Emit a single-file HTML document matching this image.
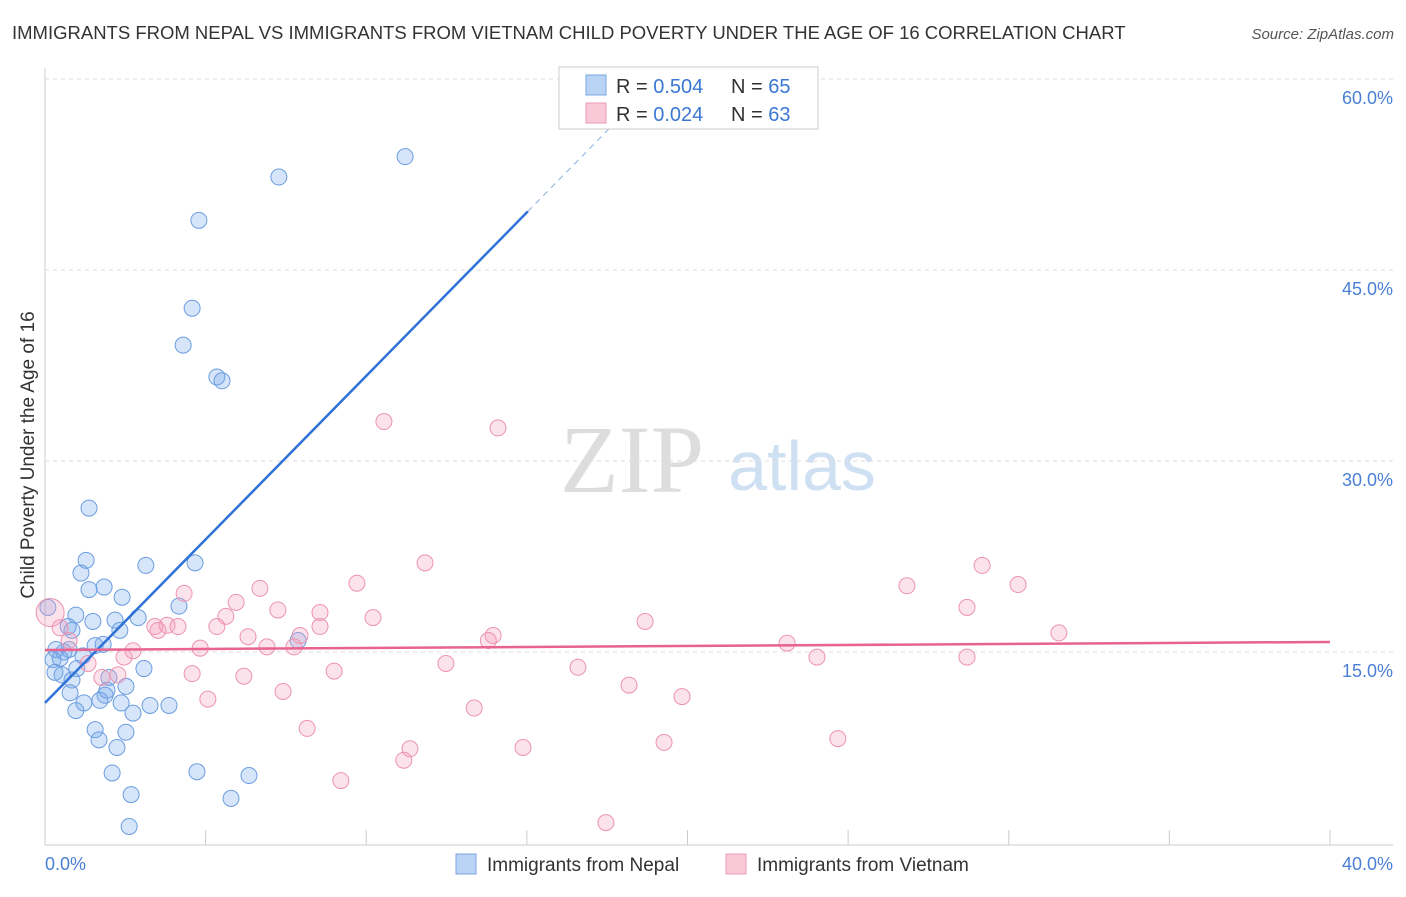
<!DOCTYPE html>
<html><head><meta charset="utf-8"><style>
body{margin:0;background:#fff;font-family:"Liberation Sans",sans-serif;}
</style></head><body>
<svg width="1406" height="892" xmlns="http://www.w3.org/2000/svg">
<text x="12" y="39" font-size="18.5" fill="#333">IMMIGRANTS FROM NEPAL VS IMMIGRANTS FROM VIETNAM CHILD POVERTY UNDER THE AGE OF 16 CORRELATION CHART</text>
<text x="1394" y="39" font-size="15" fill="#555" font-style="italic" text-anchor="end">Source: ZipAtlas.com</text>
<text x="632" y="492" font-size="96" fill="#ddd" font-family="Liberation Serif,serif" text-anchor="middle">ZIP</text>
<text x="802" y="490" font-size="70" fill="#cfe0f3" text-anchor="middle">atlas</text>
<g id="grid"></g><g id="axes"></g><g id="pts"></g><g id="lines"></g>
<text transform="translate(34,455) rotate(-90)" font-size="19" fill="#333" text-anchor="middle">Child Poverty Under the Age of 16</text>
<text x="45" y="870" font-size="18" fill="#4a7fd4">0.0%</text>
<text x="1393" y="870" font-size="18" fill="#4a7fd4" text-anchor="end">40.0%</text>
<g>
<rect x="559" y="67" width="259" height="62" fill="#fff" stroke="#ccc"/>
<rect x="586" y="75" width="20" height="20" fill="#b9d3f5" stroke="#7aa6e0"/>
<rect x="586" y="103" width="20" height="20" fill="#f9c9d8" stroke="#ee9ab4"/>
<text x="616" y="93" font-size="20" fill="#333">R = <tspan fill="#3a78d4">0.504</tspan></text>
<text x="731" y="93" font-size="20" fill="#333">N = <tspan fill="#3a78d4">65</tspan></text>
<text x="616" y="121" font-size="20" fill="#333">R = <tspan fill="#3a78d4">0.024</tspan></text>
<text x="731" y="121" font-size="20" fill="#333">N = <tspan fill="#3a78d4">63</tspan></text>
</g>
<g>
<rect x="456" y="854" width="20" height="20" fill="#b9d3f5" stroke="#7aa6e0"/>
<text x="487" y="871" font-size="19" fill="#333">Immigrants from Nepal</text>
<rect x="726" y="854" width="20" height="20" fill="#f9c9d8" stroke="#ee9ab4"/>
<text x="757" y="871" font-size="19" fill="#333">Immigrants from Vietnam</text>
</g>
</svg>
<script>
const yTicks=[15,30,45,60];
const yTickLabels=["15.0%","30.0%","45.0%","60.0%"];
const xTicks=[0,5,10,15,20,25,30,35,40];
const nepalX=[11.21,7.28,4.79,4.58,4.30,5.35,5.51,1.37,1.28,3.14,4.67,1.12,1.37,1.84,2.40,4.17,0.09,0.96,2.18,2.90,1.49,0.72,0.84,2.33,7.88,1.56,1.81,0.34,0.59,0.75,0.25,0.47,1.18,0.99,3.08,0.31,0.53,0.84,1.99,2.52,1.93,1.87,0.78,1.21,1.71,2.37,3.27,3.86,0.96,2.74,1.56,2.52,1.68,2.24,2.09,4.73,6.35,2.68,5.79,2.62];
const nepalY=[53.9,52.3,48.9,42.0,39.1,36.6,36.3,26.3,22.2,21.8,22.0,21.2,19.9,20.1,19.3,18.6,18.5,17.9,17.5,17.7,17.4,17.0,16.7,16.7,15.9,15.5,15.6,15.2,15.0,15.2,14.4,14.5,14.7,13.7,13.7,13.4,13.2,12.8,13.0,12.3,12.0,11.6,11.8,11.0,11.2,11.0,10.8,10.8,10.4,10.2,8.9,8.7,8.1,7.5,5.5,5.6,5.3,3.8,3.5,1.3];
const vietX=[10.55,14.10,11.83,29.17,26.83,30.29,9.71,6.69,4.33,5.95,28.70,7.25,8.56,5.63,10.21,18.68,3.80,3.42,4.14,8.56,5.35,3.52,31.56,7.94,13.95,6.32,13.80,23.10,6.91,7.75,4.83,2.74,2.46,24.03,28.70,12.48,1.34,16.59,9.00,6.19,4.58,1.77,2.27,18.18,7.41,19.83,5.07,13.36,8.16,24.68,19.27,11.36,14.88,11.17,9.21,17.46,0.47,0.75];
const vietY=[33.1,32.6,22.0,21.8,20.2,20.3,20.4,20.0,19.6,18.9,18.5,18.3,18.1,17.8,17.7,17.4,17.1,17.0,17.0,17.0,17.0,16.7,16.5,16.3,16.3,16.2,15.9,15.7,15.4,15.4,15.3,15.1,14.6,14.6,14.6,14.1,14.1,13.8,13.5,13.1,13.3,13.0,13.2,12.4,11.9,11.5,11.3,10.6,9.0,8.2,7.9,7.4,7.5,6.5,4.9,1.6,16.9,15.9];
const nepalTrend=[11.0,49.6];const nepalTrendX=[0,15.03];
const vietTrend=[15.16,15.79];
const ns="http://www.w3.org/2000/svg";
const xs=v=>45+v/40*1285, ys=v=>843-v/15*191;
function mk(t,a,p){const e=document.createElementNS(ns,t);for(const k in a)e.setAttribute(k,a[k]);p.appendChild(e);return e;}
const G=document.getElementById('grid'),A=document.getElementById('axes'),P=document.getElementById('pts'),L=document.getElementById('lines');
yTicks.forEach((t,i)=>{const l=mk('line',{x1:45,x2:1393,y1:ys(t),y2:ys(t),stroke:'#ddd','stroke-dasharray':'4,4'},G);


const tx=mk('text',{x:1393,y:ys(t)+25,'font-size':18,fill:'#4a7fd4','text-anchor':'end'},G);tx.textContent=yTickLabels[i];

});
const ax=mk('line',{x1:45,x2:1393,y1:845,y2:845,stroke:'#ccc'},A);


const yax=mk('line',{x1:45,x2:45,y1:68,y2:845,stroke:'#ccc'},A);


xTicks.forEach(t=>{const l=mk('line',{x1:xs(t),x2:xs(t),y1:830,y2:845,stroke:'#ccc'},A);

});
nepalX.forEach((x,i)=>{const c=mk('circle',{cx:xs(x),cy:ys(nepalY[i]),r:8,fill:'rgba(120,170,235,0.3)',stroke:'#6b9de0','stroke-width':1},P);

});
vietX.forEach((x,i)=>{const c=mk('circle',{cx:xs(x),cy:ys(vietY[i]),r:8,fill:'rgba(245,160,190,0.3)',stroke:'#ec93b0','stroke-width':1},P);

});
const big=mk('circle',{cx:xs(0.16),cy:ys(18.1),r:14,fill:'rgba(245,160,190,0.3)',stroke:'#ec93b0'},P);


const l1=mk('line',{x1:xs(nepalTrendX[0]),y1:ys(nepalTrend[0]),x2:xs(nepalTrendX[1]),y2:ys(nepalTrend[1]),stroke:'#2f72d6','stroke-width':2.5},L);


const slope=(nepalTrend[1]-nepalTrend[0])/(nepalTrendX[1]-nepalTrendX[0]);
const ex=18.0;
const l1d=mk('line',{x1:xs(nepalTrendX[1]),y1:ys(nepalTrend[1]),x2:xs(ex),y2:ys(nepalTrend[0]+slope*ex),stroke:'#9bbbe8','stroke-width':1.2,'stroke-dasharray':'6,5'},L);


const l2=mk('line',{x1:xs(0),y1:ys(vietTrend[0]),x2:xs(40),y2:ys(vietTrend[1]),stroke:'#e8638f','stroke-width':2.5},L);


</script>
</body></html>
